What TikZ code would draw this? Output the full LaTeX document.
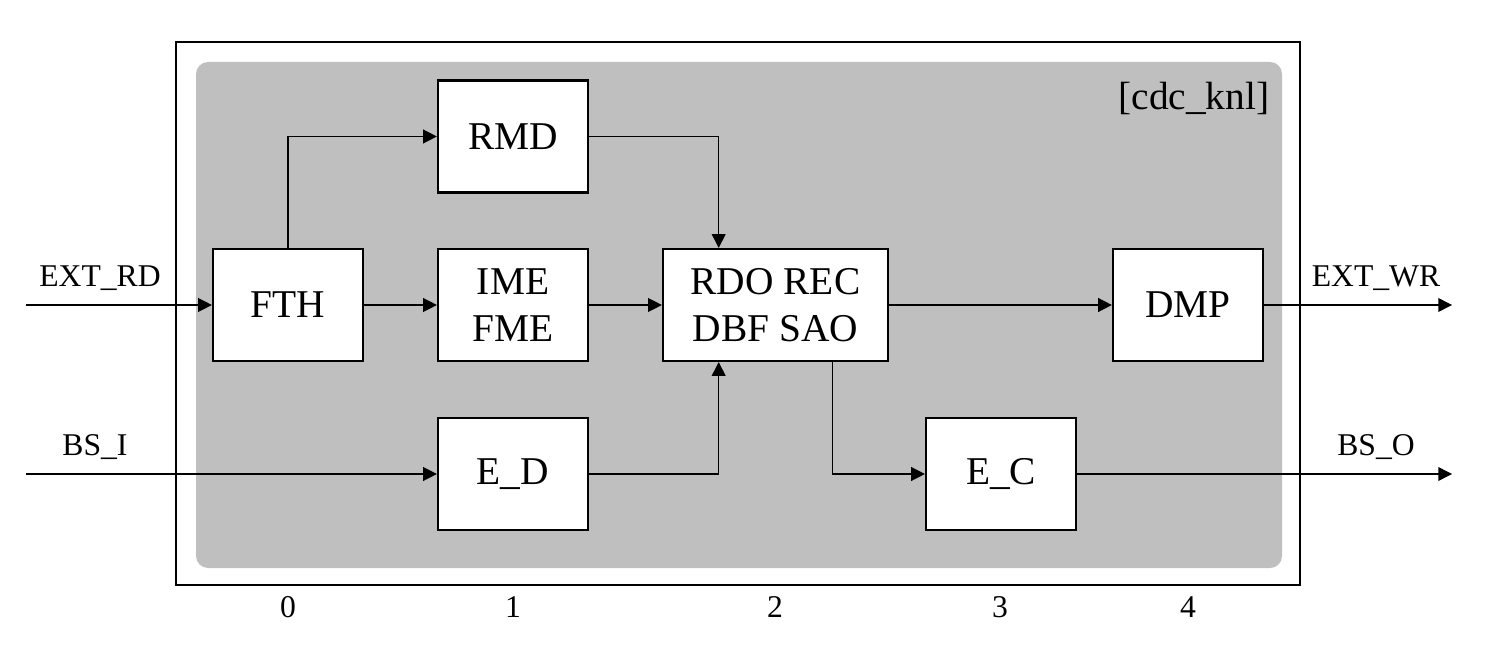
\documentclass[tikz,border=0pt]{standalone}
\usepackage{fontspec}
\setmainfont{Liberation Serif}
\usetikzlibrary{arrows.meta,calc,positioning}
\definecolor{knlgray}{HTML}{BFBFBF}

\begin{document}
\begin{tikzpicture}
	[x=0.01cm,y=-0.01cm,-,
	blk/.style={shape=rectangle,draw,line width=0.6pt,fill=white,align=center,
		minimum width=1.5cm,minimum height=1.12cm,inner sep=1pt,
		font=\fontsize{11.2}{13.2}\selectfont},
	lbl/.style={inner sep=0pt,anchor=base,font=\fontsize{9}{11}\selectfont},
	arr/.style={line width=0.4pt,-{Triangle[length=3.9pt,width=3.9pt]}}]
	\useasboundingbox (0,0) rectangle (1492,649);
	% frame and kernel area
	\fill[knlgray,rounded corners=0.12cm] (196,62) rectangle (1282,568);
	\draw[line width=0.6pt] (176,42) rectangle (1300,585);
	\node[inner sep=0pt,anchor=base east,font=\fontsize{11.2}{13}\selectfont] (knl) at (1270,110) {[cdc\_knl]};
	% stages
	\node[blk] (fth) at (288,305) {FTH};
	\node[blk] (rmd) at (513,136.5) {RMD};
	\node[blk] (me) at (513,305) {IME\\FME};
	\node[blk,minimum width=2.25cm] (rdo) at (775.5,305) {RDO REC\\DBF SAO};
	\node[blk] (dmp) at (1188,305) {DMP};
	\node[blk] (ed) at (513,474) {E\_D};
	\node[blk] (ec) at (1001,474) {E\_C};
	% ports
	\coordinate (inrd) at (26,305);
	\coordinate (inbs) at (26,474);
	\coordinate (outwr) at (1452,305);
	\coordinate (outbs) at (1452,474);
	\node[lbl] (extrd) at (100,287) {EXT\_RD};
	\node[lbl] (bsi) at (95,455) {BS\_I};
	\node[lbl] (extwr) at (1376,287) {EXT\_WR};
	\node[lbl] (bso) at (1376,455) {BS\_O};
	% stage numbers
	\foreach \name/\xpos in {0/288,1/513,2/775,3/1000,4/1188}
	{
		\node[lbl] (num\name) at (\xpos,617) {\name};
	}
	% connections
	\draw[arr] (inrd) -- (fth);
	\draw[arr] (inbs) -- (ed);
	\draw[arr] (fth.north) |- (rmd);
	\draw[arr] (fth) -- (me);
	\draw[arr] (me) -- (rdo);
	\draw[arr] (rmd) -| ($(rdo.north west)!0.25!(rdo.north east)$);
	\draw[arr] (ed) -| ($(rdo.south west)!0.25!(rdo.south east)$);
	\draw[arr] ($(rdo.south west)!0.75!(rdo.south east)$) |- (ec);
	\draw[arr] (rdo) -- (dmp);
	\draw[arr] (dmp) -- (outwr);
	\draw[arr] (ec) -- (outbs);
\end{tikzpicture}
\end{document}
